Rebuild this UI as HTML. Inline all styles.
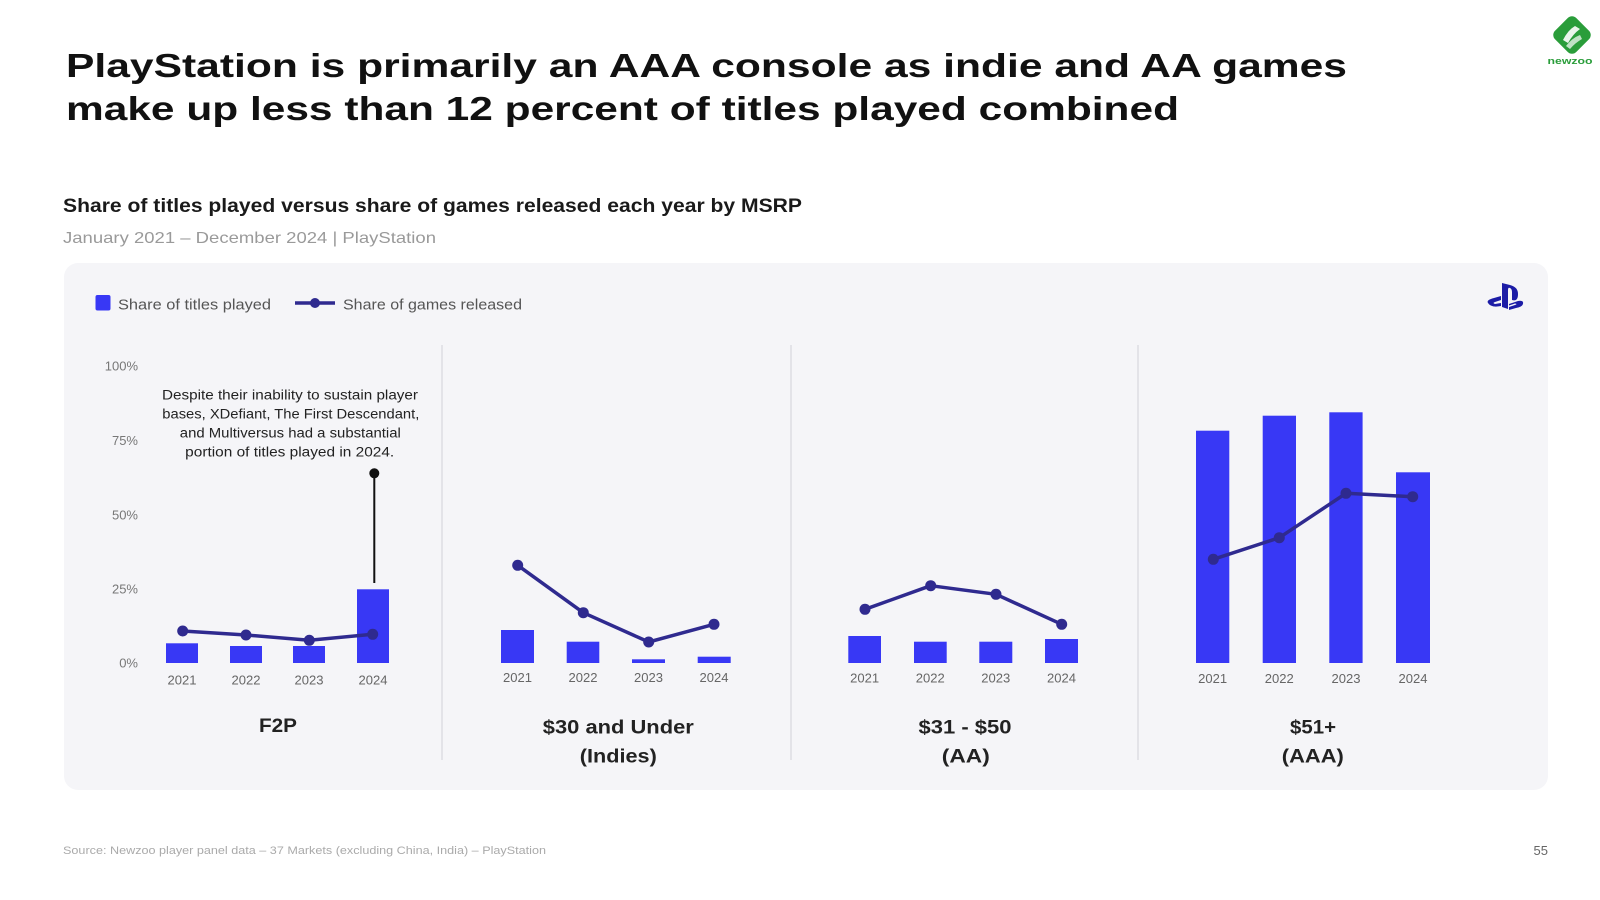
<!DOCTYPE html>
<html>
<head>
<meta charset="utf-8">
<style>
html,body{margin:0;padding:0;background:#fff;}
svg{display:block;}
text{font-family:"Liberation Sans",sans-serif;}
</style>
</head>
<body>
<svg width="1600" height="900" viewBox="0 0 1600 900" xmlns="http://www.w3.org/2000/svg">
<rect x="0" y="0" width="1600" height="900" fill="#ffffff"/>

<!-- Title -->
<text x="66" y="77" font-size="33" font-weight="bold" fill="#111" textLength="1281" lengthAdjust="spacingAndGlyphs">PlayStation is primarily an AAA console as indie and AA games</text>
<text x="66" y="120" font-size="33" font-weight="bold" fill="#111" textLength="1113" lengthAdjust="spacingAndGlyphs">make up less than 12 percent of titles played combined</text>

<!-- Newzoo logo -->
<g transform="translate(1572,35) rotate(45)">
  <rect x="-15" y="-15" width="30" height="30" rx="6" fill="#2a9d3a"/>
</g>
<path d="M1563 40 Q1568 30 1575 26 L1580 29 Q1573 34 1568 43 Z" fill="#ffffff" opacity="0.9"/>
<path d="M1566 46 Q1572 38 1580 35 L1582 39 Q1575 43 1570 49 Z" fill="#ffffff" opacity="0.7"/>
<text x="1570" y="64" font-size="9" font-weight="bold" fill="#2a9d3a" text-anchor="middle" textLength="45" lengthAdjust="spacingAndGlyphs">newzoo</text>

<!-- Subtitle -->
<text x="63" y="212" font-size="19.5" font-weight="bold" fill="#1a1a1a" textLength="739" lengthAdjust="spacingAndGlyphs">Share of titles played versus share of games released each year by MSRP</text>
<text x="63" y="243" font-size="16" fill="#9a9a9a" textLength="373" lengthAdjust="spacingAndGlyphs">January 2021 – December 2024 | PlayStation</text>

<!-- Panel -->
<rect x="64" y="263" width="1484" height="527" rx="14" fill="#f5f5f8"/>

<!-- Legend -->
<rect x="95.5" y="295" width="15" height="15.5" rx="2" fill="#3838f5"/>
<text x="118" y="309.5" font-size="15" fill="#555" textLength="153" lengthAdjust="spacingAndGlyphs">Share of titles played</text>
<line x1="295" y1="303" x2="335" y2="303" stroke="#2f2a8f" stroke-width="3.5"/>
<circle cx="315" cy="303" r="5" fill="#2f2a8f"/>
<text x="343" y="309.5" font-size="15" fill="#555" textLength="179" lengthAdjust="spacingAndGlyphs">Share of games released</text>

<!-- PS logo -->
<g fill="#1c1ca6">
  <path d="M1502 283 L1502 307 L1508 309 L1508 290 Q1508 287 1510 288 Q1512 289 1512 292 L1512 300 Q1518 302 1518 294 Q1518 287 1510 285 Z"/>
  <path d="M1488 303 Q1486 300 1494 298 L1501 296 L1501 300 L1495 302 Q1492 303 1495 304 L1501 303 L1501 306 Q1491 308 1488 303 Z"/>
  <path d="M1509 304 L1518 301 Q1524 300 1523 304 Q1522 307 1516 308 L1509 310 L1509 307 L1515 305 Q1518 304 1515 303.5 L1509 305.5 Z"/>
</g>

<!-- Y axis labels -->
<g font-size="13" fill="#777" text-anchor="end">
  <text x="138" y="370.5">100%</text>
  <text x="138" y="445">75%</text>
  <text x="138" y="519.5">50%</text>
  <text x="138" y="593.5">25%</text>
  <text x="138" y="667.5">0%</text>
</g>

<!-- Dividers -->
<g stroke="#e3e3e8" stroke-width="2">
  <line x1="442" y1="345" x2="442" y2="760"/>
  <line x1="791" y1="345" x2="791" y2="760"/>
  <line x1="1138" y1="345" x2="1138" y2="760"/>
</g>

<!-- Bars -->
<g fill="#3838f5">
  <rect x="166" y="643.3" width="32" height="19.7"/>
  <rect x="230" y="646" width="32" height="17"/>
  <rect x="293" y="646" width="32" height="17"/>
  <rect x="357" y="589.3" width="32" height="73.7"/>

  <rect x="501" y="630" width="33" height="33"/>
  <rect x="566.7" y="641.7" width="32.6" height="21.3"/>
  <rect x="632" y="659.3" width="33" height="3.7"/>
  <rect x="697.7" y="656.7" width="33" height="6.3"/>

  <rect x="848.3" y="636" width="32.7" height="27"/>
  <rect x="914" y="641.7" width="32.7" height="21.3"/>
  <rect x="979.3" y="641.7" width="33" height="21.3"/>
  <rect x="1045" y="639" width="33" height="24"/>

  <rect x="1196" y="430.7" width="33.3" height="232.3"/>
  <rect x="1262.7" y="415.7" width="33.3" height="247.3"/>
  <rect x="1329.3" y="412.3" width="33.3" height="250.7"/>
  <rect x="1396" y="472.3" width="34" height="190.7"/>
</g>

<!-- Lines -->
<g stroke="#2f2a8f" stroke-width="3.5" fill="none" stroke-linejoin="round">
  <polyline points="182.7,631 246,635 309.3,640.3 372.7,634.3"/>
  <polyline points="517.7,565.3 583.3,612.7 648.7,642 714,624.3"/>
  <polyline points="865,609.3 930.7,585.7 996,594.3 1061.7,624.3"/>
  <polyline points="1213.3,559.3 1279.3,537.7 1346,493.3 1412.7,496.7"/>
</g>
<g fill="#2f2a8f">
  <circle cx="182.7" cy="631" r="5.5"/><circle cx="246" cy="635" r="5.5"/><circle cx="309.3" cy="640.3" r="5.5"/><circle cx="372.7" cy="634.3" r="5.5"/>
  <circle cx="517.7" cy="565.3" r="5.5"/><circle cx="583.3" cy="612.7" r="5.5"/><circle cx="648.7" cy="642" r="5.5"/><circle cx="714" cy="624.3" r="5.5"/>
  <circle cx="865" cy="609.3" r="5.5"/><circle cx="930.7" cy="585.7" r="5.5"/><circle cx="996" cy="594.3" r="5.5"/><circle cx="1061.7" cy="624.3" r="5.5"/>
  <circle cx="1213.3" cy="559.3" r="5.5"/><circle cx="1279.3" cy="537.7" r="5.5"/><circle cx="1346" cy="493.3" r="5.5"/><circle cx="1412.7" cy="496.7" r="5.5"/>
</g>

<!-- Annotation -->
<line x1="374.3" y1="473.3" x2="374.3" y2="583" stroke="#111" stroke-width="2"/>
<circle cx="374.3" cy="473.3" r="5" fill="#111"/>
<g font-size="13.5" fill="#222" text-anchor="middle">
  <text x="290" y="399.5" textLength="256" lengthAdjust="spacingAndGlyphs">Despite their inability to sustain player</text>
  <text x="290.8" y="418.5" textLength="257" lengthAdjust="spacingAndGlyphs">bases, XDefiant, The First Descendant,</text>
  <text x="290.3" y="437.5" textLength="221" lengthAdjust="spacingAndGlyphs">and Multiversus had a substantial</text>
  <text x="289.7" y="456.5" textLength="209" lengthAdjust="spacingAndGlyphs">portion of titles played in 2024.</text>
</g>

<!-- Year labels -->
<g font-size="12.5" fill="#666" text-anchor="middle">
  <text x="182" y="684.5" textLength="29" lengthAdjust="spacingAndGlyphs">2021</text>
  <text x="246" y="684.5" textLength="29" lengthAdjust="spacingAndGlyphs">2022</text>
  <text x="309" y="684.5" textLength="29" lengthAdjust="spacingAndGlyphs">2023</text>
  <text x="373" y="684.5" textLength="29" lengthAdjust="spacingAndGlyphs">2024</text>

  <text x="517.5" y="682" textLength="29" lengthAdjust="spacingAndGlyphs">2021</text>
  <text x="583" y="682" textLength="29" lengthAdjust="spacingAndGlyphs">2022</text>
  <text x="648.5" y="682" textLength="29" lengthAdjust="spacingAndGlyphs">2023</text>
  <text x="714" y="682" textLength="29" lengthAdjust="spacingAndGlyphs">2024</text>

  <text x="864.7" y="682.5" textLength="29" lengthAdjust="spacingAndGlyphs">2021</text>
  <text x="930.3" y="682.5" textLength="29" lengthAdjust="spacingAndGlyphs">2022</text>
  <text x="995.8" y="682.5" textLength="29" lengthAdjust="spacingAndGlyphs">2023</text>
  <text x="1061.5" y="682.5" textLength="29" lengthAdjust="spacingAndGlyphs">2024</text>

  <text x="1212.7" y="683" textLength="29" lengthAdjust="spacingAndGlyphs">2021</text>
  <text x="1279.3" y="683" textLength="29" lengthAdjust="spacingAndGlyphs">2022</text>
  <text x="1346" y="683" textLength="29" lengthAdjust="spacingAndGlyphs">2023</text>
  <text x="1413" y="683" textLength="29" lengthAdjust="spacingAndGlyphs">2024</text>
</g>

<!-- Category labels -->
<g font-size="19" font-weight="bold" fill="#222" text-anchor="middle">
  <text x="278" y="732" textLength="38" lengthAdjust="spacingAndGlyphs">F2P</text>
  <text x="618.3" y="733.5" textLength="151" lengthAdjust="spacingAndGlyphs">$30 and Under</text>
  <text x="618.3" y="762.5" textLength="77" lengthAdjust="spacingAndGlyphs">(Indies)</text>
  <text x="965" y="733.5" textLength="93" lengthAdjust="spacingAndGlyphs">$31 - $50</text>
  <text x="965.8" y="762.5" textLength="48" lengthAdjust="spacingAndGlyphs">(AA)</text>
  <text x="1313" y="733.5" textLength="46" lengthAdjust="spacingAndGlyphs">$51+</text>
  <text x="1312.8" y="762.5" textLength="62" lengthAdjust="spacingAndGlyphs">(AAA)</text>
</g>

<!-- Footer -->
<text x="63" y="854" font-size="11" fill="#aaaaaa" textLength="483" lengthAdjust="spacingAndGlyphs">Source: Newzoo player panel data – 37 Markets (excluding China, India) – PlayStation</text>
<text x="1548" y="855" font-size="13" fill="#666" text-anchor="end">55</text>
</svg>
</body>
</html>
